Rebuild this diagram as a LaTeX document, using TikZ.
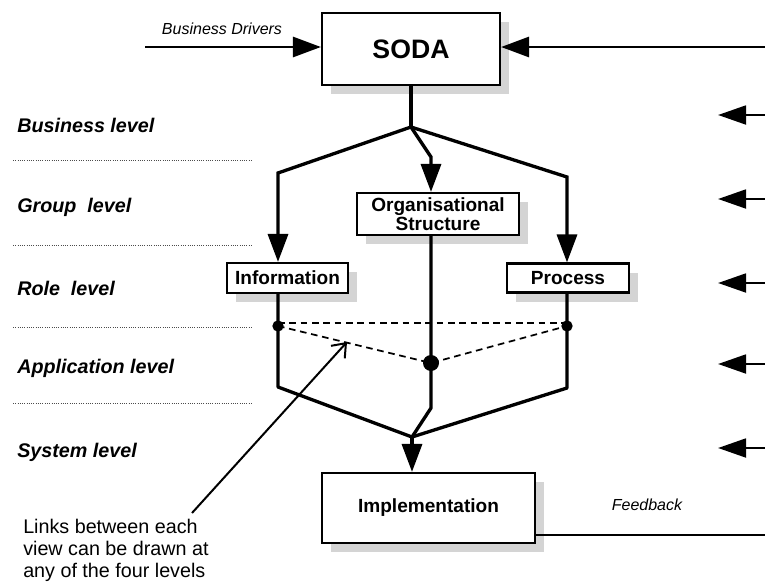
\documentclass[tikz,border=0pt]{standalone}
\usepackage{fontspec}
\setmainfont{Liberation Sans}
\usetikzlibrary{arrows.meta,shadows}
\begin{document}
\begin{tikzpicture}[x=0.75pt,y=-0.75pt,
  box/.style={draw,line width=1.6pt,fill=white,inner sep=0pt,align=center,
    font=\fontsize{14.3}{12.8}\selectfont\bfseries,
    drop shadow={shadow xshift=7pt,shadow yshift=-7pt,fill=black!17,opacity=1}},
  flow/.style={line width=2.5pt},
  sideflow/.style={line width=2.2pt},
  head/.style={-{Triangle[length=21pt,width=15pt]}},
  levelname/.style={anchor=base west,inner sep=0pt,font=\fontsize{14.8}{16}\selectfont\bfseries\itshape},
  levelrule/.style={densely dotted,line width=0.7pt,black!70},
  joint/.style={circle,fill,inner sep=0pt,minimum size=#1},
  viewlink/.style={dash pattern=on 5pt off 3.5pt,line width=1.3pt},
  smalllabel/.style={anchor=base,inner sep=0pt,font=\fontsize{12}{14}\selectfont\itshape},
]
\useasboundingbox (0,0) rectangle (765,582);

% level names and the dotted rules between them
\node[levelname] (lvbus)  at (17,132) {Business level};
\node[levelname] (lvgrp)  at (17,212) {Group\ \ level};
\node[levelname] (lvrole) at (17,295) {Role\ \ level};
\node[levelname] (lvapp)  at (17,373) {Application level};
\node[levelname] (lvsys)  at (17,457) {System level};
\foreach \y in {160,245,327,403}
  \draw[levelrule] (13,\y) -- (253,\y);

% boxes
\node[box,minimum width=133.5pt,minimum height=54pt,font=\fontsize{20}{24}\selectfont\bfseries]
  (soda) at (411,49) {SODA};
\node[box,minimum width=121.5pt,minimum height=31.5pt] (org) at (438,214) {Organisational\\Structure};
\node[box,minimum width=90.75pt,minimum height=22.5pt] (info) at (287.5,278) {Information};
\node[box,minimum width=91.5pt,minimum height=21.75pt] (proc) at (568,278) {Process};
\node[box,minimum width=159.75pt,minimum height=52.5pt] (impl) at (428.5,508) {Implementation};

% inputs to SODA
\coordinate (drv) at (145,47);
\coordinate (fbtop) at (765,47);
\node[smalllabel] (drvlabel) at (222,34) {Business Drivers};
\draw[sideflow,head] (drv) -- (drv -| soda.west);
\draw[sideflow,head] (fbtop) -- (fbtop -| soda.east);

% feedback arrows at each level
\foreach \y/\n in {115/a,199/b,283/c,364/d,448/e}{
  \coordinate (fbin\n) at (765,\y);
  \coordinate (fbtip\n) at (718,\y);
  \draw[sideflow,-{Triangle[length=21pt,width=14pt]}] (fbin\n) -- (fbtip\n);
}

% feedback from implementation
\coordinate (fbbot) at (765,535);
\node[smalllabel] (fblabel) at (647,510) {Feedback};
\draw[sideflow] (fbbot) -- (fbbot -| impl.east);

% split from SODA into the three views
\coordinate (split) at (411,127);
\coordinate (lbend) at (278,173);
\coordinate (mbend) at (431,157);
\coordinate (rbend) at (567,177);
\draw[flow] (soda.south -| split) -- (split);
\draw[flow,head] (split) -- (lbend) -- (lbend |- info.north);
\draw[flow,head] (split) -- (mbend) -- (mbend |- org.north);
\draw[flow,head] (split) -- (rbend) -- (rbend |- proc.north);

% merge of the views into the implementation
\coordinate (lbot) at (278,387);
\coordinate (mbot) at (431,408);
\coordinate (rbot) at (567,388);
\coordinate (merge) at (412,437);
\draw[flow,line join=round] (info.south -| lbot) -- (lbot) -- (merge);
\draw[flow,line join=round] (org.south -| mbot) -- (mbot) -- (merge);
\draw[flow,line join=round] (proc.south -| rbot) -- (rbot) -- (merge);
\draw[flow,head] (merge) -- (merge |- impl.north);

% links between the views
\coordinate (ljoint) at (278,326);
\coordinate (mjoint) at (431,363);
\coordinate (rjoint) at (567,326);
\draw[viewlink] ([yshift=2.2pt]ljoint) -- ([yshift=2.2pt]rjoint);
\draw[viewlink] (ljoint) -- (mjoint) -- (rjoint);
\node[joint=8.5pt] (ldot) at (ljoint) {};
\node[joint=8.5pt] (rdot) at (rjoint) {};
\node[joint=12pt] (mdot) at (mjoint) {};

% note
\node[anchor=north west,inner sep=0pt,align=left,font=\fontsize{14.8}{16.5}\selectfont]
  (note) at (23,519) {Links between each\\view can be drawn at\\any of the four levels};
\coordinate (notefoot) at (192,513);
\coordinate (notetip) at (347,342);
\draw[line width=1.5pt,-{Straight Barb[length=9pt,width=14pt]}] (notefoot) -- (notetip);
\end{tikzpicture}
\end{document}
